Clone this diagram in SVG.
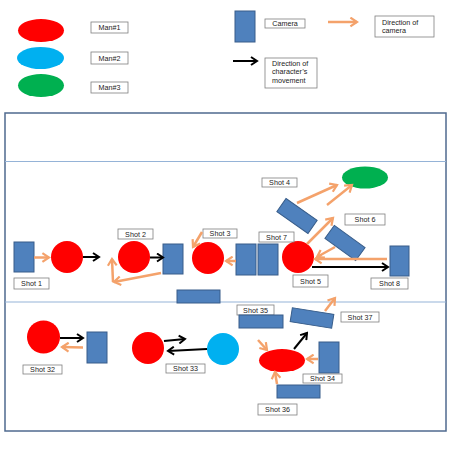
<svg xmlns="http://www.w3.org/2000/svg" width="453" height="453" viewBox="0 0 453 453">
<defs>
<style>
.cam{fill:#4F81BD;stroke:#385D8A;stroke-width:1}
.lb{fill:#fff;stroke:#7F7F7F;stroke-width:0.8}
.t{font-family:"Liberation Sans",Arial,sans-serif;font-size:7.2px;fill:#222}
.or{stroke:#F4A26B;stroke-width:2.5;fill:none;marker-end:url(#ho)}
.bk{stroke:#000;stroke-width:2;fill:none;marker-end:url(#hb)}
.red{fill:#FF0000}
.blue{fill:#00B0F0}
.green{fill:#00B050}
</style>
<marker id="ho" viewBox="0 0 10 10" refX="8" refY="5" markerWidth="11" markerHeight="11" markerUnits="userSpaceOnUse" orient="auto">
<path d="M2,1 L8,5 L2,9" fill="none" stroke="#F4A26B" stroke-width="2"/>
</marker>
<marker id="hb" viewBox="0 0 10 10" refX="8" refY="5" markerWidth="10" markerHeight="10" markerUnits="userSpaceOnUse" orient="auto">
<path d="M2,1 L8,5 L2,9" fill="none" stroke="#000" stroke-width="2"/>
</marker>
</defs>
<rect width="453" height="453" fill="#fff"/>

<!-- Legend -->
<g id="legend-man1"><ellipse class="red" cx="41" cy="30.5" rx="23" ry="11.5"/><rect class="lb" x="91" y="22" width="37" height="11"/><text class="t" x="109.5" y="30" text-anchor="middle">Man#1</text></g>
<g id="legend-man2"><ellipse class="blue" cx="40.5" cy="58" rx="23.5" ry="11"/><rect class="lb" x="91" y="52" width="37" height="12"/><text class="t" x="109.5" y="60.5" text-anchor="middle">Man#2</text></g>
<g id="legend-man3"><ellipse class="green" cx="41" cy="85.5" rx="23" ry="11.5"/><rect class="lb" x="91" y="82" width="37" height="11"/><text class="t" x="109.5" y="90" text-anchor="middle">Man#3</text></g>
<g id="legend-camera"><rect class="cam" x="235" y="11" width="20" height="31"/><rect class="lb" x="265" y="19" width="40" height="9"/><text class="t" x="285" y="26" text-anchor="middle">Camera</text></g>
<g id="legend-dircam"><rect class="lb" x="375" y="16" width="59" height="21"/><text class="t" x="382" y="25">Direction of</text><text class="t" x="382" y="33">camera</text></g>
<g id="legend-dirmove"><rect class="lb" x="265" y="58" width="52" height="30"/><text class="t" x="272" y="65.5">Direction of</text><text class="t" x="272" y="74">character’s</text><text class="t" x="272" y="82.5">movement</text></g>

<!-- Frame -->
<g id="frame">
<rect x="5" y="113" width="441" height="318" fill="none" stroke="#4F6A8F" stroke-width="1.5"/>
<line x1="5" y1="161.5" x2="446" y2="161.5" stroke="#95B3D7" stroke-width="1"/>
<line x1="5" y1="302" x2="446" y2="302" stroke="#95B3D7" stroke-width="1"/>
</g>

<!-- Characters -->
<g id="man-a"><circle class="red" cx="67" cy="257" r="16"/></g>
<g id="man-b"><circle class="red" cx="134" cy="257" r="16"/></g>
<g id="man-c"><circle class="red" cx="208" cy="258" r="16"/></g>
<g id="man-d"><circle class="red" cx="298" cy="257" r="16"/></g>
<g id="man3"><ellipse class="green" cx="365" cy="177.5" rx="23" ry="11"/></g>
<g id="man-e"><circle class="red" cx="43.5" cy="337" r="16.5"/></g>
<g id="man-f"><circle class="red" cx="148" cy="348" r="16"/></g>
<g id="man2"><circle class="blue" cx="223" cy="349" r="16"/></g>
<g id="man-g"><ellipse class="red" cx="282" cy="360.5" rx="23" ry="11.5"/></g>

<!-- Cameras -->
<g id="shot1"><rect class="cam" x="14" y="242" width="20" height="30"/><rect class="lb" x="14" y="278" width="35" height="11"/><text class="t" x="31.5" y="286" text-anchor="middle">Shot 1</text></g>
<g id="shot2"><rect class="cam" x="163" y="244" width="20" height="30"/><rect class="lb" x="118" y="229" width="35" height="10"/><text class="t" x="135.5" y="236.5" text-anchor="middle">Shot 2</text></g>
<g id="shot3"><rect class="cam" x="236" y="244" width="20" height="31"/><rect class="lb" x="203" y="229" width="34" height="9"/><text class="t" x="220" y="236" text-anchor="middle">Shot 3</text></g>
<g id="shot7"><rect class="cam" x="258" y="244" width="20" height="31"/><rect class="lb" x="259" y="232" width="35" height="10"/><text class="t" x="276.5" y="239.5" text-anchor="middle">Shot 7</text></g>
<g id="shot4"><rect class="cam" x="-19" y="-8" width="38" height="16" transform="translate(297,216) rotate(35)"/><rect class="lb" x="262" y="178" width="35" height="9"/><text class="t" x="279.5" y="185" text-anchor="middle">Shot 4</text></g>
<g id="shot6"><rect class="cam" x="-19" y="-8" width="38" height="16" transform="translate(345,243) rotate(36)"/><rect class="lb" x="345" y="214" width="40" height="11"/><text class="t" x="365" y="222" text-anchor="middle">Shot 6</text></g>
<g id="shot5"><rect class="lb" x="293" y="275" width="35" height="12"/><text class="t" x="310.5" y="283.5" text-anchor="middle">Shot 5</text></g>
<g id="shot8"><rect class="cam" x="390" y="246" width="19" height="30"/><rect class="lb" x="371" y="278" width="37" height="11"/><text class="t" x="389.5" y="286" text-anchor="middle">Shot 8</text></g>
<g id="cam-mid"><rect class="cam" x="177" y="290" width="43" height="13"/></g>
<g id="shot32"><rect class="cam" x="87" y="332" width="20" height="31"/><rect class="lb" x="23" y="365" width="39" height="9"/><text class="t" x="42.5" y="372" text-anchor="middle">Shot 32</text></g>
<g id="shot33"><rect class="lb" x="166" y="364" width="39" height="9"/><text class="t" x="185.5" y="371" text-anchor="middle">Shot 33</text></g>
<g id="shot35"><rect class="lb" x="237" y="305" width="37" height="10"/><text class="t" x="255.5" y="312.5" text-anchor="middle">Shot 35</text><rect class="cam" x="239" y="315" width="44" height="13"/></g>
<g id="shot37"><rect class="cam" x="-21" y="-7" width="42" height="14" transform="translate(312,318) rotate(9)"/><rect class="lb" x="341" y="312" width="38" height="10"/><text class="t" x="360" y="319.5" text-anchor="middle">Shot 37</text></g>
<g id="shot34"><rect class="cam" x="319" y="342" width="20" height="31"/><rect class="lb" x="303" y="374" width="39" height="9"/><text class="t" x="322.5" y="381" text-anchor="middle">Shot 34</text></g>
<g id="shot36"><rect class="cam" x="277" y="385" width="43" height="13"/><rect class="lb" x="258" y="404" width="39" height="11"/><text class="t" x="277.5" y="412" text-anchor="middle">Shot 36</text></g>

<!-- Connectors -->
<g id="connectors">
<line class="or" x1="328" y1="22" x2="357" y2="22"/>
<line class="bk" x1="233" y1="61" x2="257" y2="61"/>
<line class="or" x1="34" y1="257.5" x2="49" y2="257.5"/>
<line class="bk" x1="83" y1="257" x2="99" y2="257"/>
<line class="bk" x1="150" y1="257.5" x2="163" y2="257.5"/>
<line class="or" x1="161" y1="273" x2="114" y2="282"/>
<line class="or" x1="113" y1="282" x2="112" y2="259"/>
<line class="or" x1="202" y1="232" x2="193" y2="247"/>
<line class="or" x1="236" y1="261" x2="226" y2="261"/>
<line class="or" x1="297" y1="203" x2="337" y2="185"/>
<line class="or" x1="327" y1="205" x2="352" y2="185"/>
<line class="or" x1="307" y1="244" x2="333" y2="218"/>
<line class="or" x1="335" y1="247" x2="317" y2="257"/>
<line class="or" x1="387" y1="259" x2="315" y2="259"/>
<line class="bk" x1="312" y1="267" x2="388" y2="267"/>
<line class="bk" x1="60" y1="338" x2="83" y2="338"/>
<line class="or" x1="83" y1="347.5" x2="62" y2="347"/>
<line class="bk" x1="164" y1="341" x2="185" y2="339"/>
<line class="bk" x1="207" y1="349" x2="168" y2="351"/>
<line class="or" x1="325" y1="311" x2="335" y2="298"/>
<line class="bk" x1="294" y1="349" x2="307" y2="333"/>
<line class="or" x1="258" y1="340" x2="267" y2="350"/>
<line class="or" x1="318" y1="359" x2="307" y2="359"/>
<line class="or" x1="277" y1="384" x2="275" y2="372"/>
</g>
</svg>
